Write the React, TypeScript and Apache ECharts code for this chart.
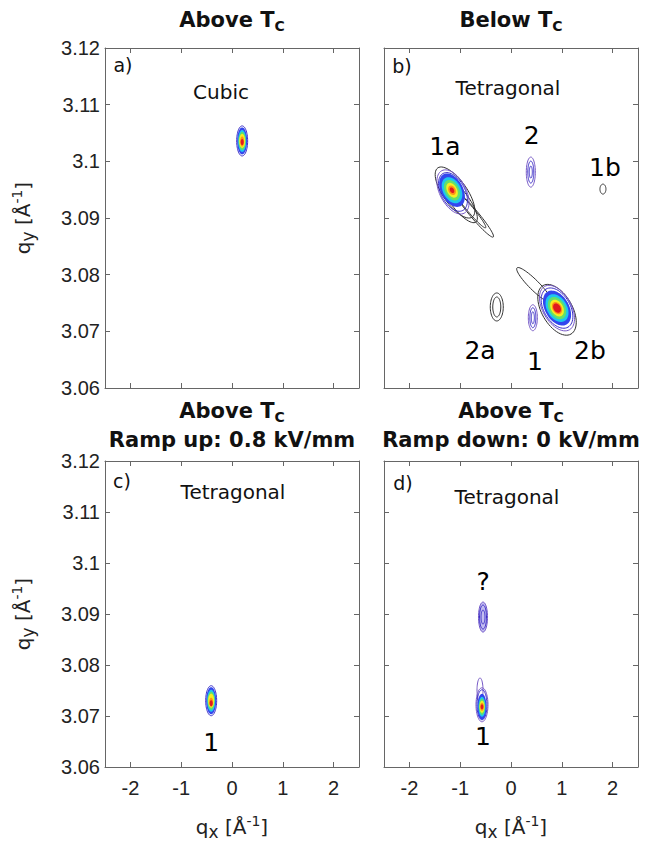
import React, { useEffect, useRef } from "react";
import * as echarts from "echarts";

// ---- axis ticks ----
const qxTicks = [-2, -1, 0, 1, 2];
const qyTicks = [3.06, 3.07, 3.08, 3.09, 3.1, 3.11, 3.12];

// ---- contour rings: [qx, qy, half-width qx, half-width qy, tilt (deg), contour level] ----
const ringsA = [
  [0.2, 3.1036, 0.108, 0.00265, 0, 2],
  [0.2, 3.1036, 0.098, 0.00238, 0, 3],
  [0.2, 3.1036, 0.079, 0.00194, 0, 4],
  [0.2, 3.1036, 0.069, 0.00159, 0, 5],
  [0.2, 3.1036, 0.059, 0.00124, 0, 6],
  [0.2, 3.1035, 0.039, 0.00088, 0, 7],
  [0.2, 3.1034, 0.03, 0.00053, 0, 8],
];

const ringsB = [
  // 1a
  [-1.102, 3.0945, 0.236, 0.0053, 35, 0],
  [-1.02, 3.0932, 0.177, 0.0049, 37, 0],
  [-0.728, 3.0907, 0.079, 0.00529, 40, 0],
  [-0.8, 3.0915, 0.06, 0.0042, 40, 0],
  [-1.142, 3.0946, 0.256, 0.00424, 28, 1],
  [-1.142, 3.0946, 0.236, 0.0037, 28, 2],
  [-1.161, 3.0949, 0.217, 0.00318, 28, 3],
  [-1.161, 3.0949, 0.177, 0.00247, 28, 4],
  [-1.161, 3.0949, 0.138, 0.00194, 28, 5],
  [-1.161, 3.0949, 0.098, 0.00141, 28, 6],
  [-1.161, 3.0949, 0.069, 0.00088, 28, 7],
  [-1.161, 3.0949, 0.039, 0.00053, 28, 8],
  // 2
  [0.39, 3.0981, 0.089, 0.00265, 0, 1],
  [0.39, 3.0981, 0.059, 0.00194, 0, 2],
  [0.39, 3.0981, 0.03, 0.00106, 0, 2],
  // 1b
  [1.81, 3.0951, 0.059, 0.00088, 0, 0],
  // 2a
  [-0.28, 3.0743, 0.128, 0.00247, 0, 0],
  [-0.28, 3.0743, 0.079, 0.00176, 0, 0],
  // 1
  [0.43, 3.0724, 0.089, 0.00229, 0, 1],
  [0.43, 3.0724, 0.059, 0.00176, 0, 2],
  [0.43, 3.0724, 0.03, 0.00106, 0, 2],
  // 2b
  [0.906, 3.0738, 0.3, 0.00494, 30, 0],
  [0.453, 3.0782, 0.098, 0.00424, 45, 0],
  [0.906, 3.0741, 0.28, 0.00441, 30, 1],
  [0.906, 3.0741, 0.26, 0.00388, 30, 2],
  [0.906, 3.0741, 0.236, 0.00335, 30, 3],
  [0.906, 3.0741, 0.197, 0.00265, 30, 4],
  [0.906, 3.0741, 0.158, 0.00212, 30, 5],
  [0.906, 3.0741, 0.118, 0.00159, 30, 6],
  [0.906, 3.0741, 0.089, 0.00115, 30, 7],
  [0.906, 3.0741, 0.069, 0.00088, 30, 8],
];

const ringsC = [
  [-0.41, 3.073, 0.108, 0.00294, 0, 2],
  [-0.41, 3.073, 0.098, 0.00265, 0, 3],
  [-0.41, 3.073, 0.079, 0.00216, 0, 4],
  [-0.41, 3.073, 0.069, 0.00176, 0, 5],
  [-0.41, 3.073, 0.059, 0.00137, 0, 6],
  [-0.41, 3.0727, 0.039, 0.00088, 0, 7],
  [-0.41, 3.0725, 0.03, 0.00059, 0, 8],
];

const ringsD = [
  // ?
  [-0.551, 3.0894, 0.089, 0.00294, 0, 9],
  [-0.551, 3.0894, 0.069, 0.00235, 0, 2],
  [-0.551, 3.0894, 0.039, 0.00137, 0, 2],
  // 1
  [-0.61, 3.0751, 0.059, 0.00235, 0, 1],
  [-0.571, 3.0722, 0.118, 0.00333, 0, 1],
  [-0.571, 3.0722, 0.098, 0.00294, 0, 2],
  [-0.571, 3.0718, 0.089, 0.00255, 0, 3],
  [-0.571, 3.0718, 0.069, 0.00196, 0, 4],
  [-0.571, 3.0718, 0.059, 0.00157, 0, 5],
  [-0.571, 3.0718, 0.049, 0.00118, 0, 6],
  [-0.571, 3.0718, 0.039, 0.00078, 0, 7],
  [-0.571, 3.0718, 0.026, 0.00049, 0, 8],
];

// ---- peak labels: [text, qx, qy] ----
const labelsA: (string | number)[][] = [];
const labelsB = [
  ["1a", -1.3, 3.1027],
  ["2", 0.41, 3.1046],
  ["1b", 1.85, 3.099],
  ["2a", -0.61, 3.0667],
  ["1", 0.47, 3.0646],
  ["2b", 1.555, 3.0667],
];
const labelsC = [["1", -0.41, 3.0649]];
const labelsD = [
  ["?", -0.55, 3.0963],
  ["1", -0.55, 3.0659],
];

const panelLetters = ["a)", "b)", "c)", "d)"];
const panelPhases = ["Cubic", "Tetragonal", "Tetragonal", "Tetragonal"];
const panelTitleTop = ["Below", "Above"];
const rampTexts = ["Ramp up: 0.8 kV/mm", "Ramp down: 0 kV/mm"];

const LEVEL_STYLES: { stroke: string | null; fill: string | null }[] = [
  { stroke: "#303030", fill: null },
  { stroke: "#7658c6", fill: null },
  { stroke: "#3b2ec8", fill: null },
  { stroke: null, fill: "#3346ee" },
  { stroke: null, fill: "#1ec6ee" },
  { stroke: null, fill: "#63e06b" },
  { stroke: null, fill: "#f4ee22" },
  { stroke: null, fill: "#ff9216" },
  { stroke: null, fill: "#e01a1e" },
  { stroke: "#6f55c8", fill: "#c3bdf0" },
];

const GRIDS = [
  { left: 105, top: 48, width: 254, height: 340 },
  { left: 384, top: 48, width: 254, height: 340 },
  { left: 105, top: 461, width: 254, height: 306 },
  { left: 384, top: 461, width: 254, height: 306 },
];

const AXIS_COLOR = "#666";
const TICK_FONT = "Liberation Sans";
const TEXT_FONT = "DejaVu Sans";

function renderRing(params: any, api: any) {
  const c = api.coord([api.value(0), api.value(1)]);
  const rx = api.size([api.value(2), 0])[0];
  const ry = api.size([0, api.value(3)])[1];
  const phi = (api.value(4) * Math.PI) / 180;
  const lvl = api.value(5);
  const pts: number[][] = [];
  for (let k = 0; k < 60; k++) {
    const t = (k / 60) * 2 * Math.PI;
    const x = rx * Math.cos(t);
    const y = ry * Math.sin(t);
    pts.push([
      c[0] + x * Math.cos(phi) + y * Math.sin(phi),
      c[1] - x * Math.sin(phi) + y * Math.cos(phi),
    ]);
  }
  const st = LEVEL_STYLES[lvl];
  return {
    type: "polygon",
    shape: { points: pts },
    style: {
      fill: st.fill || "none",
      stroke: st.stroke || "none",
      lineWidth: 1,
    },
  };
}

function titleText(x: number, y: number, word: string) {
  return {
    type: "text",
    x,
    y,
    style: {
      text: `{b|${word} T}{s|C}`,
      align: "center",
      verticalAlign: "middle",
      rich: {
        b: { fontSize: 21, fontWeight: "bold", fontFamily: TEXT_FONT, fill: "#111", lineHeight: 26 },
        s: { fontSize: 14, fontWeight: "bold", fontFamily: TEXT_FONT, fill: "#111", lineHeight: 12, verticalAlign: "bottom" },
      },
    },
  };
}

function plainText(x: number, y: number, text: string, size: number, bold = false) {
  return {
    type: "text",
    x,
    y,
    style: {
      text,
      align: "center",
      verticalAlign: "middle",
      fontSize: size,
      fontWeight: bold ? "bold" : "normal",
      fontFamily: TEXT_FONT,
      fill: "#111",
    },
  };
}

function axisName(x: number, y: number, sub: string, rotate: boolean) {
  return {
    type: "text",
    x,
    y,
    rotation: rotate ? Math.PI / 2 : 0,
    style: {
      text: `{n|q}{s|${sub}}{n| [Å}{p|-1}{n|]}`,
      align: "center",
      verticalAlign: "middle",
      rich: {
        n: { fontSize: 20, fontFamily: TEXT_FONT, fill: "#222", lineHeight: 26 },
        s: { fontSize: 17, fontFamily: TEXT_FONT, fill: "#222", lineHeight: 20, verticalAlign: "bottom" },
        p: { fontSize: 14, fontFamily: TEXT_FONT, fill: "#222", lineHeight: 14, verticalAlign: "top" },
      },
    },
  };
}

export default function App() {
  const ref = useRef<HTMLDivElement>(null);

  useEffect(() => {
    if (!ref.current) return;
    const chart = echarts.init(ref.current, null, { renderer: "svg" });

    const xAxes: any[] = [];
    const yAxes: any[] = [];
    for (let i = 0; i < 4; i++) {
      xAxes.push({
        type: "value",
        gridIndex: i,
        position: "bottom",
        min: -2.5,
        max: 2.5,
        axisLine: { show: true, onZero: false, lineStyle: { color: AXIS_COLOR, width: 1 } },
        axisTick: { show: true, inside: true, length: 5, customValues: qxTicks, lineStyle: { color: AXIS_COLOR } },
        axisLabel: {
          show: i >= 2,
          customValues: qxTicks,
          margin: 11,
          fontSize: 20,
          fontFamily: TICK_FONT,
          color: "#222",
          formatter: (v: number) => String(Math.round(v)),
        },
        splitLine: { show: false },
      });
      yAxes.push({
        type: "value",
        gridIndex: i,
        position: "left",
        min: 3.06,
        max: 3.12,
        axisLine: { show: true, onZero: false, lineStyle: { color: AXIS_COLOR, width: 1 } },
        axisTick: { show: true, inside: true, length: 5, customValues: qyTicks, lineStyle: { color: AXIS_COLOR } },
        axisLabel: {
          show: i % 2 === 0,
          customValues: qyTicks,
          margin: 5,
          fontSize: 20,
          fontFamily: TICK_FONT,
          color: "#222",
          formatter: (v: number) => Number(v).toFixed(2).replace(/0$/, ""),
        },
        splitLine: { show: false },
      });
    }
    for (let i = 0; i < 4; i++) {
      xAxes.push({
        type: "value",
        gridIndex: i,
        position: "top",
        min: -2.5,
        max: 2.5,
        axisLine: { show: true, onZero: false, lineStyle: { color: AXIS_COLOR, width: 1 } },
        axisTick: { show: true, inside: true, length: 5, customValues: qxTicks, lineStyle: { color: AXIS_COLOR } },
        axisLabel: { show: false },
        splitLine: { show: false },
      });
      yAxes.push({
        type: "value",
        gridIndex: i,
        position: "right",
        min: 3.06,
        max: 3.12,
        axisLine: { show: true, onZero: false, lineStyle: { color: AXIS_COLOR, width: 1 } },
        axisTick: { show: true, inside: true, length: 5, customValues: qyTicks, lineStyle: { color: AXIS_COLOR } },
        axisLabel: { show: false },
        splitLine: { show: false },
      });
    }

    const ringSets = [ringsA, ringsB, ringsC, ringsD];
    const labelSets = [labelsA, labelsB, labelsC, labelsD];
    const series: any[] = [];
    for (let i = 0; i < 4; i++) {
      series.push({
        type: "custom",
        xAxisIndex: i,
        yAxisIndex: i,
        silent: true,
        renderItem: renderRing,
        encode: { x: 0, y: 1 },
        data: ringSets[i],
      });
      series.push({
        type: "scatter",
        xAxisIndex: i,
        yAxisIndex: i,
        silent: true,
        symbolSize: 1,
        itemStyle: { color: "rgba(0,0,0,0)", opacity: 1 },
        data: labelSets[i].map((l) => ({ name: l[0] as string, value: [l[1], l[2]] })),
        label: {
          show: true,
          position: "inside",
          formatter: "{b}",
          fontSize: 25,
          fontFamily: TEXT_FONT,
          color: "#000",
          opacity: 1,
          textBorderWidth: 0,
        },
      });
    }

    const graphics: any[] = [
      titleText(232, 20, "Above"),
      titleText(511, 20, panelTitleTop[0]),
      titleText(232, 411, panelTitleTop[1]),
      plainText(232, 440, rampTexts[0], 21, true),
      titleText(511, 411, panelTitleTop[1]),
      plainText(511, 440, rampTexts[1], 21, true),
      plainText(123, 65, panelLetters[0], 19),
      plainText(402, 66, panelLetters[1], 19),
      plainText(122, 481, panelLetters[2], 19),
      plainText(403, 483, panelLetters[3], 19),
      plainText(221, 92, panelPhases[0], 20),
      plainText(508, 88, panelPhases[1], 20),
      plainText(233, 492, panelPhases[2], 20),
      plainText(507, 497, panelPhases[3], 20),
      axisName(23, 218, "y", true),
      axisName(23, 614, "y", true),
      axisName(232, 827, "x", false),
      axisName(511, 827, "x", false),
    ];

    chart.setOption({
      animation: false,
      backgroundColor: "#ffffff",
      grid: GRIDS.map((g) => ({ ...g, containLabel: false })),
      xAxis: xAxes,
      yAxis: yAxes,
      series,
      graphic: graphics,
    });

    return () => chart.dispose();
  }, []);

  return (
    <div
      ref={ref}
      style={{ position: "absolute", left: 0, top: 0, width: 648, height: 842 }}
    />
  );
}
